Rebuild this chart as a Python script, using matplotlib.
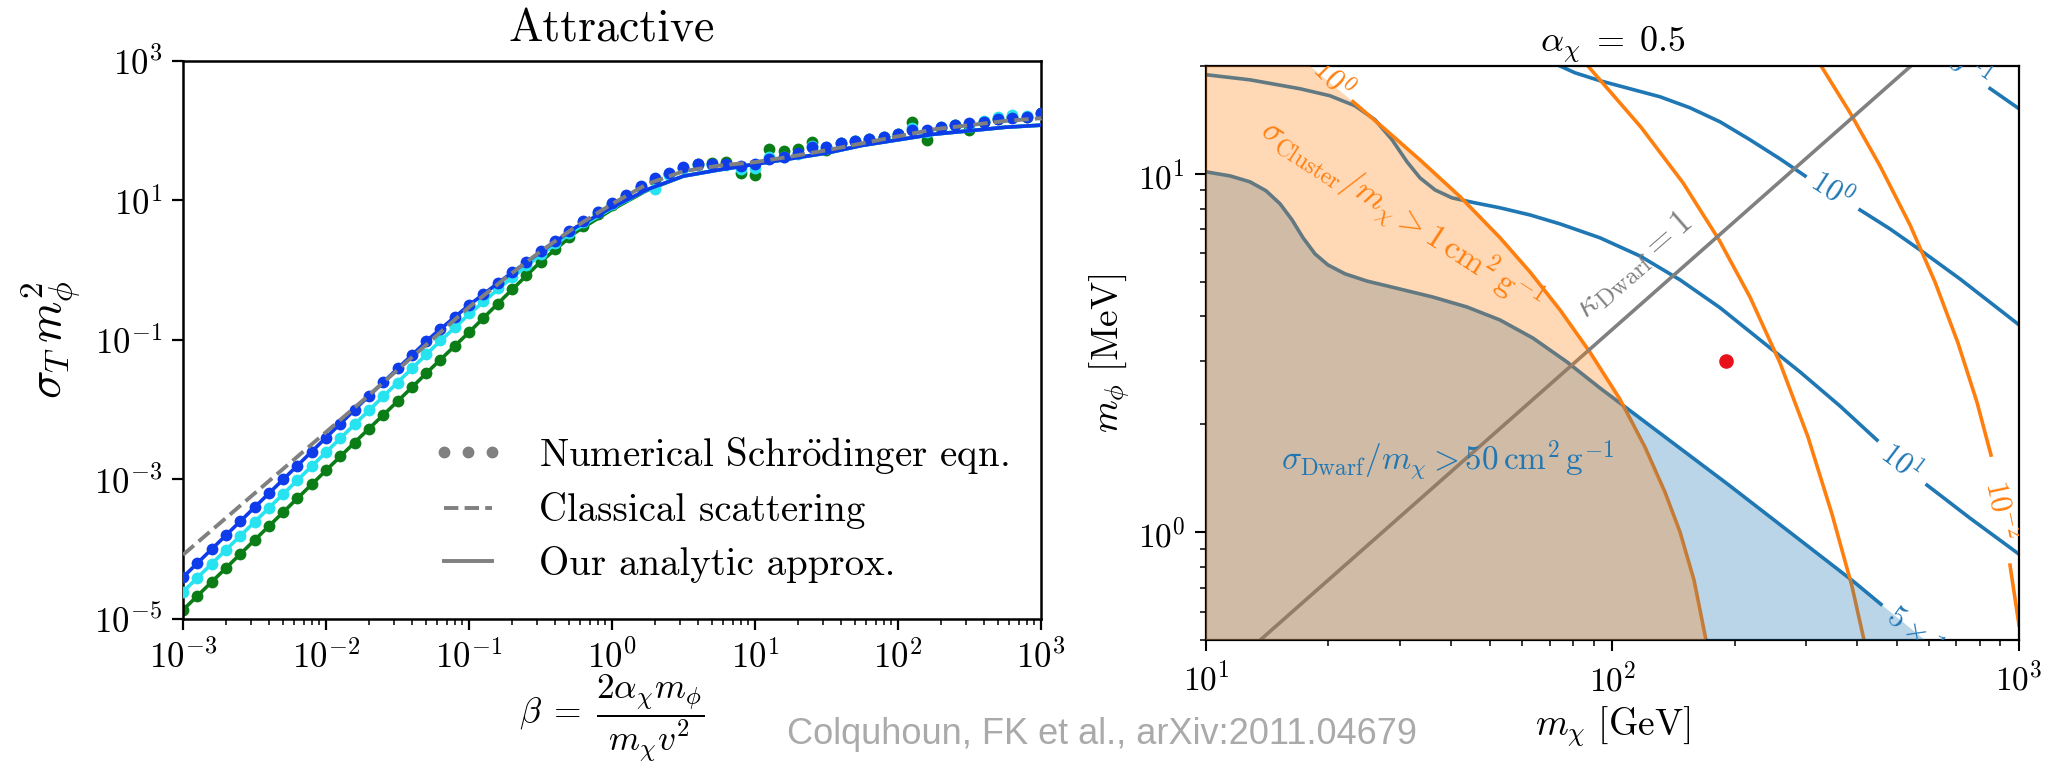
import numpy as np
import matplotlib
matplotlib.use("Agg")
import matplotlib.pyplot as plt
from matplotlib.lines import Line2D
from matplotlib.ticker import LogLocator, NullLocator

plt.rcParams.update({
    "font.family": "serif",
    "font.serif": ["cmr10"],
    "mathtext.fontset": "cm",
    "axes.formatter.use_mathtext": True,
})

# ---------------- left panel: sigma_T m_phi^2 vs beta ----------------
log_beta_pts = np.linspace(-3, 3, 61)
logsig_blue_pts = [
    -4.40, -4.20, -4.00, -3.80, -3.60, -3.40, -3.20, -3.00, -2.80, -2.60,
    -2.40, -2.20, -2.00, -1.80, -1.60, -1.40, -1.21, -1.02, -0.84, -0.67,
    -0.50, -0.34, -0.18, -0.03, 0.12, 0.27, 0.42, 0.56, 0.70, 0.84,
    0.96, 1.08, 1.21, 1.32, 1.39, 1.48, 1.52, 1.52, 1.52, 1.49,
    1.52, 1.59, 1.62, 1.68, 1.77, 1.77, 1.83, 1.85, 1.88, 1.91,
    1.95, 2.01, 2.01, 2.05, 2.08, 2.11, 2.13, 2.17, 2.18, 2.20, 2.25]
logsig_cyan_pts = [
    -4.61, -4.41, -4.21, -4.01, -3.81, -3.61, -3.41, -3.21, -3.01, -2.81,
    -2.61, -2.41, -2.21, -2.01, -1.81, -1.61, -1.40, -1.20, -1.00, -0.81,
    -0.62, -0.44, -0.26, -0.09, 0.07, 0.23, 0.39, 0.54, 0.69, 0.83,
    0.95, 1.07, 1.18, 1.17, 1.36, 1.46, 1.51, 1.51, 1.51, 1.45,
    1.46, 1.62, 1.63, 1.66, 1.78, 1.76, 1.82, 1.85, 1.88, 1.91,
    1.95, 2.04, 1.98, 2.05, 2.08, 2.10, 2.14, 2.19, 2.22, 2.21, 2.24]
logsig_green_pts = [
    -4.87, -4.67, -4.47, -4.27, -4.07, -3.87, -3.67, -3.47, -3.27, -3.07,
    -2.87, -2.67, -2.47, -2.27, -2.07, -1.88, -1.68, -1.48, -1.28, -1.08,
    -0.89, -0.69, -0.48, -0.27, -0.07, 0.12, 0.30, 0.48, 0.64, 0.80,
    0.94, 1.07, 1.19, 1.30, 1.38, 1.47, 1.52, 1.54, 1.55, 1.39,
    1.37, 1.74, 1.71, 1.74, 1.84, 1.72, 1.82, 1.85, 1.88, 1.91,
    1.95, 2.13, 1.87, 2.04, 2.08, 2.01, 2.13, 2.17, 2.19, 2.20, 2.26]

log_beta_curve = np.linspace(-3, 3, 25)
logsig_blue_curve = [-4.40, -3.90, -3.40, -2.90, -2.40, -1.90, -1.41, -0.93, -0.50,
                     -0.11, 0.26, 0.62, 0.90, 1.16, 1.35, 1.44, 1.52, 1.60, 1.68,
                     1.79, 1.87, 1.95, 2.00, 2.05, 2.08]
logsig_cyan_curve = [-4.61, -4.11, -3.61, -3.11, -2.61, -2.11, -1.61, -1.11, -0.63,
                     -0.19, 0.22, 0.59, 0.89, 1.16, 1.35, 1.44, 1.52, 1.60, 1.68,
                     1.79, 1.87, 1.95, 2.00, 2.05, 2.08]
logsig_green_curve = [-4.87, -4.37, -3.87, -3.37, -2.87, -2.37, -1.88, -1.38, -0.89,
                      -0.38, 0.12, 0.55, 0.87, 1.15, 1.35, 1.44, 1.52, 1.60, 1.68,
                      1.79, 1.87, 1.95, 2.00, 2.05, 2.08]
logsig_classical = [-4.08, -3.64, -3.20, -2.76, -2.32, -1.88, -1.43, -0.98, -0.53,
                    -0.12, 0.27, 0.63, 0.95, 1.24, 1.42, 1.50, 1.55, 1.63, 1.72,
                    1.82, 1.92, 2.02, 2.08, 2.14, 2.18]

legend_labels = ["Numerical Schr$\\ddot{\\rm o}$dinger eqn.",
                 "Classical scattering",
                 "Our analytic approx."]

# ---------------- right panel: (m_chi [GeV], m_phi [MeV]) curves ----------------
dwarf50_mchi = [10.0, 11.46, 12.83, 14.05, 15.21, 16.28, 17.33, 18.54, 19.95, 21.98,
                24.90, 30.01, 36.17, 43.86, 52.87, 63.74, 77.29, 93.15, 193.4,
                390.6, 457.6, 587.2]
dwarf50_mphi = [10.13, 9.87, 9.50, 8.97, 8.25, 7.44, 6.63, 5.98, 5.57, 5.26,
                5.02, 4.77, 4.53, 4.25, 3.91, 3.48, 2.985, 2.525, 1.353,
                0.730, 0.629, 0.5]

dwarf10_mchi = [10.0, 12.83, 17.03, 20.18, 23.25, 26.04, 28.69, 31.23, 33.61, 36.59,
                40.29, 45.89, 52.87, 62.66, 74.28, 93.15, 116.8, 146.6, 183.9,
                230.7, 289.3, 362.8, 447.4, 593.9, 757.8, 1000]
dwarf10_mphi = [18.91, 18.30, 17.28, 16.52, 15.49, 14.16, 12.45, 10.80, 9.745, 9.02,
                8.57, 8.30, 8.04, 7.68, 7.25, 6.63, 5.90, 5.06, 4.23,
                3.44, 2.80, 2.249, 1.807, 1.353, 1.094, 0.868]

dwarf1_mchi = [74.3, 80.8, 93.2, 110.4, 130.9, 155.1, 183.9, 217.9, 258.3, 297.6,
               406.4, 481.6, 580.6, 715.9, 1000]
dwarf1_mphi = [20.0, 19.15, 18.19, 17.28, 16.41, 15.29, 13.97, 12.45, 11.01, 9.87,
               7.93, 7.02, 6.05, 5.09, 3.79]

dwarf01_mchi = [849, 1000]
dwarf01_mphi = [17.3, 15.2]

cluster1_mchi = [18.0, 23.0, 27.2, 33.6, 42.2, 52.9, 62.7, 74.3, 88.0, 104.3,
                 120.2, 134.6, 146.6, 158.7, 169.8]
cluster1_mphi = [20.0, 15.9, 13.5, 10.94, 8.63, 6.63, 5.32, 4.17, 3.18, 2.35,
                 1.727, 1.293, 1.00, 0.734, 0.5]

cluster01_mchi = [87.0, 117.5, 149.1, 182.9, 217.9, 258.3, 302.7, 346.7, 388.2, 415.6]
cluster01_mphi = [20.0, 13.5, 9.44, 6.54, 4.53, 2.966, 1.842, 1.123, 0.7067, 0.5]

cluster001_mchi = [326, 384.0, 455.0, 539.5, 621.4, 707.8, 788.0, 853.4, 950.4, 1000]
cluster001_mphi = [20.0, 14.81, 10.53, 7.20, 4.99, 3.373, 2.307, 1.641, 0.809, 0.55]

kappa_mchi = [13.6, 542]
kappa_mphi = [0.5, 20.0]

bench_mchi = [190]
bench_mphi = [3.0]

# ---------------- figure ----------------
fig = plt.figure(figsize=(20.53, 7.66), dpi=100)
axL = fig.add_axes([0.08914, 0.19191, 0.41792, 0.72846])
axR = fig.add_axes([0.58743, 0.16449, 0.39601, 0.74935])

BLUE, CYAN, GREEN, GREY = "#0f3ceb", "#27e3ef", "#0b7d17", "#808080"
beta_pts = 10 ** log_beta_pts
beta_curve = 10 ** log_beta_curve
for pts, curve, col, z in [(logsig_green_pts, logsig_green_curve, GREEN, 2),
                           (logsig_cyan_pts, logsig_cyan_curve, CYAN, 3),
                           (logsig_blue_pts, logsig_blue_curve, BLUE, 4)]:
    axL.plot(beta_curve, 10 ** np.array(curve), color=col, lw=2.6, zorder=z)
    axL.plot(beta_pts, 10 ** np.array(pts), "o", color=col, ms=8.5, mew=0, zorder=z)
axL.plot(beta_curve, 10 ** np.array(logsig_classical), "--", color=GREY, lw=2.8, zorder=6)

axL.set_xscale("log")
axL.set_yscale("log")
axL.set_xlim(1e-3, 1e3)
axL.set_ylim(1e-5, 1e3)
axL.set_yticks([1e-5, 1e-3, 1e-1, 1e1, 1e3])
axL.yaxis.set_minor_locator(NullLocator())
axL.xaxis.set_major_locator(LogLocator(base=10, numticks=20))
axL.xaxis.set_minor_locator(LogLocator(base=10, subs=np.arange(2, 10), numticks=20))
axL.tick_params(which="major", labelsize=25, length=8, width=1.6, pad=7)
axL.tick_params(which="minor", length=4.5, width=1.1)
for s in axL.spines.values():
    s.set_linewidth(1.8)
axL.set_title("Attractive", fontsize=33, pad=14)
axL.set_xlabel(r"$\beta\;=\;\dfrac{2\alpha_\chi m_\phi}{m_\chi v^2}$", fontsize=25.5, labelpad=-2)
axL.set_ylabel(r"$\sigma_T\, m_\phi^2$", fontsize=34, labelpad=8)

handles = [Line2D([], [], ls="none", marker="o", color=GREY, ms=8.5, mew=0),
           Line2D([], [], ls="--", color=GREY, lw=2.8),
           Line2D([], [], ls="-", color=GREY, lw=2.8)]
axL.legend(handles, legend_labels, loc="upper left", bbox_to_anchor=(0.2104, 0.432),
           bbox_transform=fig.transFigure, frameon=False, fontsize=28, numpoints=3,
           handlelength=1.85, handletextpad=0.9, borderaxespad=0, borderpad=0,
           labelspacing=0.42)

# right panel
C0, C1 = "#1f77b4", "#ff7f0e"
LW = 2.6
d50_line = np.array(dwarf50_mchi) < 460
axR.plot(np.array(dwarf50_mchi)[d50_line], np.array(dwarf50_mphi)[d50_line], color=C0, lw=LW, zorder=1)
axR.plot(dwarf10_mchi[:23], dwarf10_mphi[:23], color=C0, lw=LW, zorder=1)
axR.plot(dwarf10_mchi[23:], dwarf10_mphi[23:], color=C0, lw=LW, zorder=1)
axR.plot(dwarf1_mchi[:10], dwarf1_mphi[:10], color=C0, lw=LW, zorder=1)
axR.plot(dwarf1_mchi[10:], dwarf1_mphi[10:], color=C0, lw=LW, zorder=1)
axR.plot(dwarf01_mchi, dwarf01_mphi, color=C0, lw=LW, zorder=1)
axR.plot(cluster1_mchi[1:], cluster1_mphi[1:], color=C1, lw=LW, zorder=1)
axR.plot(cluster01_mchi, cluster01_mphi, color=C1, lw=LW, zorder=1)
axR.plot(cluster001_mchi[:8], cluster001_mphi[:8], color=C1, lw=LW, zorder=1)
axR.plot(cluster001_mchi[8:], cluster001_mphi[8:], color=C1, lw=LW, zorder=1)
axR.plot(kappa_mchi, kappa_mphi, color=GREY, lw=LW, zorder=1)

# shaded excluded regions
axR.fill(list(dwarf50_mchi) + [10.0], list(dwarf50_mphi) + [0.5],
         color=C0, alpha=0.3, lw=0, zorder=3)
axR.fill([10.0] + list(cluster1_mchi) + [10.0], [20.0] + list(cluster1_mphi) + [0.5],
         color=C1, alpha=0.3, lw=0, zorder=4)

axR.plot(bench_mchi, bench_mphi, "o", color="#e8101a", ms=10.5, mew=0, zorder=7)

axR.set_xscale("log")
axR.set_yscale("log")
axR.set_xlim(10, 1000)
axR.set_ylim(0.5, 20)
axR.tick_params(which="major", labelsize=24, length=8, width=1.5, pad=7)
axR.tick_params(which="minor", length=4.5, width=1.1)
for s in axR.spines.values():
    s.set_linewidth(1.6)
axR.set_title(r"$\alpha_\chi\;=\;0.5$", fontsize=26, pad=10)
axR.set_xlabel(r"$m_\chi\ [\mathrm{GeV}]$", fontsize=27, labelpad=6)
axR.set_ylabel(r"$m_\phi\ [\mathrm{MeV}]$", fontsize=27, labelpad=4)

kw = dict(ha="center", va="center", rotation_mode="anchor", zorder=8, clip_on=True)
axR.text(30.2, 7.6, r"$\sigma_{\rm Cluster}/m_\chi > 1\,\mathrm{cm}^2\,\mathrm{g}^{-1}$",
         color=C1, fontsize=24, rotation=-33, **kw)
axR.text(39.2, 1.589, r"$\sigma_{\rm Dwarf}/m_\chi > 50\,\mathrm{cm}^2\,\mathrm{g}^{-1}$",
         color=C0, fontsize=24, **kw)
axR.text(113, 5.55, r"$\kappa_{\rm Dwarf} = 1$", color=GREY, fontsize=25, rotation=41, **kw)
axR.text(20.5, 18.4, r"$10^{0}$", color=C1, fontsize=22, rotation=-45, **kw)
axR.text(346.7, 9.02, r"$10^{0}$", color=C0, fontsize=22, rotation=-33, **kw)
axR.text(515, 1.57, r"$10^{1}$", color=C0, fontsize=22, rotation=-37, **kw)
axR.text(903, 1.152, r"$10^{-2}$", color=C1, fontsize=22, rotation=-78, **kw)
axR.text(482, 0.598, r"$5\times10^{1}$", color=C0, fontsize=22, rotation=-36,
         ha="left", va="center", rotation_mode="anchor", zorder=8, clip_on=True)
axR.text(835, 18.0, r"$10^{-1}$", color=C0, fontsize=22, rotation=-35,
         ha="right", va="center", rotation_mode="anchor", zorder=8, clip_on=True)

fig.text(787 / 2053, 1 - 735 / 766, "Colquhoun, FK et al., arXiv:2011.04679",
         family="Liberation Sans", fontsize=26, color="#aaaaaa", va="center", ha="left")

fig.savefig("out.png", dpi=100)
